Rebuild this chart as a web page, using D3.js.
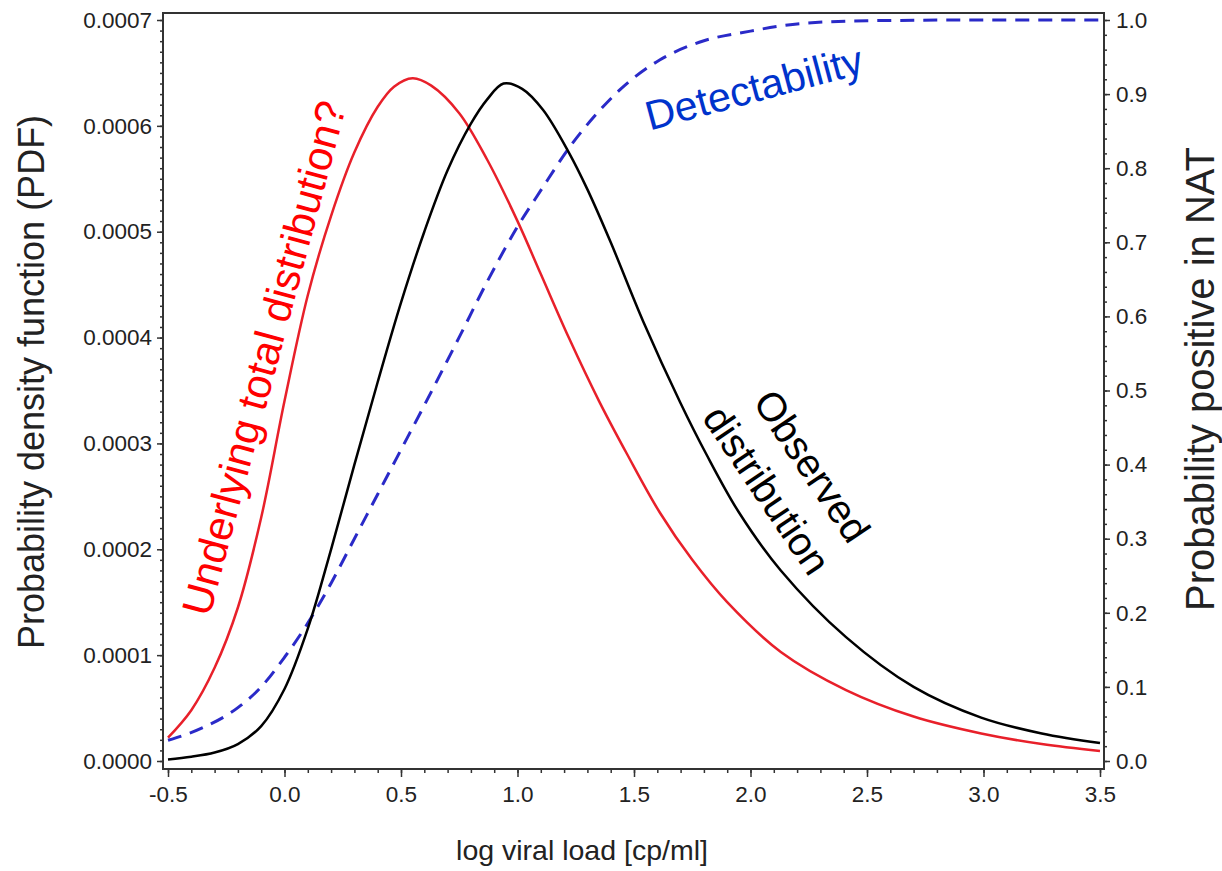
<!DOCTYPE html>
<html>
<head>
<meta charset="utf-8">
<script src="https://cdn.jsdelivr.net/npm/d3@7"></script>
<style>
  body { margin: 0; background: #fff; }
  text { font-family: "Liberation Sans", Arial, sans-serif; font-style: normal; }
</style>
</head>
<body>
<script>

// underlying total distribution (red)
const redX = [-0.5, -0.4, -0.3, -0.2, -0.1, 0.0, 0.1, 0.2, 0.3, 0.4, 0.47, 0.55, 0.63, 0.75, 0.87, 1.0, 1.1, 1.22, 1.35, 1.47, 1.61, 1.75, 1.9, 2.13, 2.41, 2.7, 2.99, 3.25, 3.5];
const redY = [2.2e-5, 4.8e-5, 8.8e-5, 1.45e-4, 2.3e-4, 3.4e-4, 4.4e-4, 5.15e-4, 5.75e-4, 6.18e-4, 6.37e-4, 6.45e-4, 6.38e-4, 6.12e-4, 5.68e-4, 5.1e-4, 4.6e-4, 4.0e-4, 3.4e-4, 2.9e-4, 2.35e-4, 1.9e-4, 1.5e-4, 1.03e-4, 6.7e-5, 4.2e-5, 2.6e-5, 1.6e-5, 9.5e-6];

// observed distribution (black)
const blackX = [-0.5, -0.4, -0.3, -0.2, -0.1, 0.0, 0.1, 0.2, 0.3, 0.4, 0.5, 0.6, 0.7, 0.8, 0.87, 0.94, 1.02, 1.11, 1.22, 1.3, 1.4, 1.54, 1.7, 1.81, 1.95, 2.13, 2.41, 2.7, 2.99, 3.25, 3.5];
const blackY = [1.5e-6, 4e-6, 8e-6, 1.6e-5, 3.3e-5, 6.8e-5, 1.25e-4, 2.0e-4, 2.8e-4, 3.58e-4, 4.33e-4, 5.0e-4, 5.58e-4, 6.02e-4, 6.25e-4, 6.4e-4, 6.35e-4, 6.15e-4, 5.75e-4, 5.4e-4, 4.9e-4, 4.15e-4, 3.38e-4, 2.9e-4, 2.35e-4, 1.8e-4, 1.17e-4, 7.0e-5, 4.1e-5, 2.6e-5, 1.7e-5];

// detectability (blue dashed, right axis)
const blueX = [-0.5, -0.35, -0.2, -0.1, 0.0, 0.1, 0.2, 0.3, 0.4, 0.5, 0.6, 0.75, 0.875, 1.0, 1.1, 1.225, 1.33, 1.44, 1.61, 1.78, 2.0, 2.21, 2.5, 3.0, 3.5];
const blueY = [0.028, 0.045, 0.072, 0.1, 0.14, 0.186, 0.24, 0.3, 0.36, 0.42, 0.48, 0.572, 0.65, 0.721, 0.77, 0.829, 0.87, 0.906, 0.946, 0.97, 0.985, 0.995, 0.999, 1.0, 1.0];

// ticks
const xTicks = [-0.5, 0.0, 0.5, 1.0, 1.5, 2.0, 2.5, 3.0, 3.5];
const leftTicks = [0, 0.0001, 0.0002, 0.0003, 0.0004, 0.0005, 0.0006, 0.0007];
const rightTicks = [0, 0.1, 0.2, 0.3, 0.4, 0.5, 0.6, 0.7, 0.8, 0.9, 1.0];

const width = 1222, height = 871;
const frame = {left: 163, right: 1104, top: 13, bottom: 769};

const svg = d3.select("body").append("svg")
    .attr("width", width)
    .attr("height", height);

// scales
const x = d3.scaleLinear().domain([-0.5, 3.5]).range([168, 1100]);
const yL = d3.scaleLinear().domain([0, 0.0007]).range([761, 20]);
const yR = d3.scaleLinear().domain([0, 1]).range([761, 20]);

// minor tick values
const xMinor = d3.range(-0.5, 3.5001, 0.1).map(v => +v.toFixed(2));
const leftMinor = d3.range(0, 0.000701, 0.00001).map(v => +v.toFixed(6));
const rightMinor = d3.range(0, 1.0001, 0.02).map(v => +v.toFixed(3));

const axisColor = "#333";
const hyphen = f => d => f(d).replace("\u2212", "-");

// minor ticks first, so the majors sit on top
svg.append("g")
    .attr("transform", "translate(0," + frame.bottom + ")")
    .call(d3.axisBottom(x).tickValues(xMinor).tickSize(4).tickFormat(""))
    .call(g => g.select(".domain").remove());
svg.append("g")
    .attr("transform", "translate(" + frame.left + ",0)")
    .call(d3.axisLeft(yL).tickValues(leftMinor).tickSize(3).tickFormat(""))
    .call(g => g.select(".domain").remove());
svg.append("g")
    .attr("transform", "translate(" + frame.right + ",0)")
    .call(d3.axisRight(yR).tickValues(rightMinor).tickSize(3).tickFormat(""))
    .call(g => g.select(".domain").remove());

// major ticks with labels
svg.append("g")
    .attr("transform", "translate(0," + frame.bottom + ")")
    .call(d3.axisBottom(x).tickValues(xTicks).tickSize(8).tickPadding(9).tickFormat(hyphen(d3.format(".1f"))))
    .call(g => g.select(".domain").remove());
svg.append("g")
    .attr("transform", "translate(" + frame.left + ",0)")
    .call(d3.axisLeft(yL).tickValues(leftTicks).tickSize(6).tickPadding(5).tickFormat(d3.format(".4f")))
    .call(g => g.select(".domain").remove());
svg.append("g")
    .attr("transform", "translate(" + frame.right + ",0)")
    .call(d3.axisRight(yR).tickValues(rightTicks).tickSize(6).tickPadding(6).tickFormat(d3.format(".1f")))
    .call(g => g.select(".domain").remove());

svg.selectAll(".tick line").attr("stroke", axisColor).attr("stroke-width", 1.5);
svg.selectAll(".tick text")
    .style("font-family", "'Liberation Sans', Arial, sans-serif")
    .style("font-size", "22.5px")
    .attr("fill", "#222");

// frame round the plot
svg.append("rect")
    .attr("x", frame.left)
    .attr("y", frame.top)
    .attr("width", frame.right - frame.left)
    .attr("height", frame.bottom - frame.top)
    .attr("fill", "none")
    .attr("stroke", axisColor)
    .attr("stroke-width", 2);

// curves
const lineL = d3.line()
    .x(d => x(d[0]))
    .y(d => yL(d[1]))
    .curve(d3.curveCatmullRom.alpha(0.5));
const lineR = d3.line()
    .x(d => x(d[0]))
    .y(d => yR(d[1]))
    .curve(d3.curveMonotoneX);

svg.append("path")
    .datum(d3.zip(blueX, blueY))
    .attr("d", lineR)
    .attr("fill", "none")
    .attr("stroke", "#2a2ac8")
    .attr("stroke-width", 3)
    .attr("stroke-dasharray", "14,9");

svg.append("path")
    .datum(d3.zip(redX, redY))
    .attr("d", lineL)
    .attr("fill", "none")
    .attr("stroke", "#e8202a")
    .attr("stroke-width", 2.5);

svg.append("path")
    .datum(d3.zip(blackX, blackY))
    .attr("d", lineL)
    .attr("fill", "none")
    .attr("stroke", "#000")
    .attr("stroke-width", 2.5);

// axis titles
svg.append("text")
    .attr("x", 582)
    .attr("y", 860)
    .attr("text-anchor", "middle")
    .style("font-size", "28.5px")
    .attr("fill", "#222")
    .text("log viral load [cp/ml]");

svg.append("text")
    .attr("transform", "translate(44,382) rotate(-90)")
    .attr("text-anchor", "middle")
    .style("font-size", "36px")
    .attr("fill", "#222")
    .text("Probability density function (PDF)");

svg.append("text")
    .attr("transform", "translate(1214,379) rotate(-90)")
    .attr("text-anchor", "middle")
    .style("font-size", "40px")
    .attr("fill", "#222")
    .text("Probability positive in NAT");

// annotations on the curves
svg.append("text")
    .attr("transform", "translate(264,358) rotate(-75)")
    .attr("text-anchor", "middle")
    .attr("dominant-baseline", "central")
    .style("font-size", "42px")
    .attr("fill", "#f00")
    .text("Underlying total distribution?");

svg.append("text")
    .attr("transform", "translate(754,88) rotate(-15)")
    .attr("text-anchor", "middle")
    .attr("dominant-baseline", "central")
    .style("font-size", "41px")
    .attr("fill", "#0033cc")
    .text("Detectability");

svg.append("text")
    .attr("transform", "translate(812,466) rotate(56)")
    .attr("text-anchor", "middle")
    .attr("dominant-baseline", "central")
    .style("font-size", "40px")
    .attr("fill", "#000")
    .text("Observed");

svg.append("text")
    .attr("transform", "translate(767,490) rotate(56)")
    .attr("text-anchor", "middle")
    .attr("dominant-baseline", "central")
    .style("font-size", "40px")
    .attr("fill", "#000")
    .text("distribution");

</script>
</body>
</html>
